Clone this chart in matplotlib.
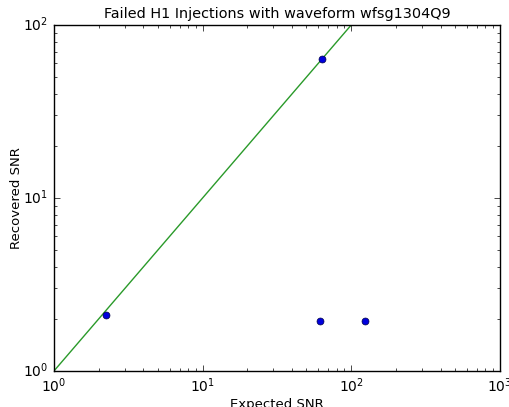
import matplotlib

matplotlib.use("Agg")
import matplotlib.pyplot as plt

plt.style.use("classic")

# injections: expected vs recovered SNR
expected_snr = [2.24, 63.4, 61.5, 123.0]
recovered_snr = [2.1, 63.6, 1.95, 1.95]
diag = [1, 1000]

fig = plt.figure(figsize=(5.09, 4.07), dpi=100, facecolor="white")
ax = fig.add_axes([0.106, 0.0885, 0.876, 0.850])

ax.loglog(diag, diag, color="#2a9a2a", lw=1)
ax.loglog(expected_snr, recovered_snr, "o", color="#0000dd", markersize=5,
          markeredgecolor="#000044", markeredgewidth=0.5)

ax.set_xlim(1, 1000)
ax.set_ylim(1, 100)
ax.set_xlabel("Expected SNR", fontsize=9.5, labelpad=2)
ax.set_ylabel("Recovered SNR", fontsize=9.5, labelpad=0)
ax.set_title("Failed H1 Injections with waveform wfsg1304Q9", fontsize=10.4, pad=5)
ax.tick_params(labelsize=10)

fig.savefig("out.png", dpi=100, facecolor="white")
